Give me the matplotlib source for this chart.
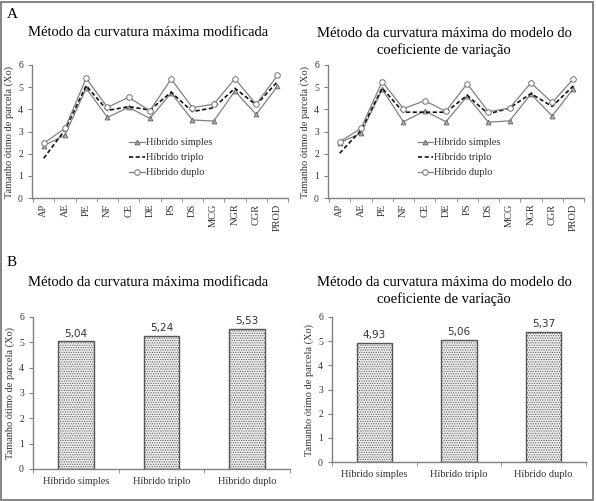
import matplotlib
matplotlib.use("Agg")
import matplotlib.pyplot as plt
from matplotlib.patches import Rectangle
import numpy as np

plt.rcParams['font.family'] = ['Liberation Serif', 'DejaVu Serif']

# Data
traits = ["AP", "AE", "PE", "NF", "CE", "DE", "PS", "DS", "MCG", "NGR", "CGR", "PROD"]
series_names = ["Híbrido simples", "Híbrido triplo", "Híbrido duplo"]

# A: método da curvatura máxima modificada
mod_simples = [2.36, 2.84, 4.95, 3.64, 4.09, 3.59, 4.74, 3.52, 3.47, 4.82, 3.77, 5.04]
mod_triplo = [1.79, 3.07, 5.07, 3.95, 4.12, 3.97, 4.77, 3.90, 4.07, 4.95, 4.20, 5.24]
mod_duplo = [2.47, 3.14, 5.40, 4.09, 4.54, 3.94, 5.37, 4.08, 4.23, 5.38, 4.23, 5.53]

# A: método da curvatura máxima do modelo do coeficiente de variação
cv_simples = [2.50, 2.92, 4.90, 3.44, 3.93, 3.44, 4.59, 3.42, 3.48, 4.69, 3.70, 4.93]
cv_triplo = [2.02, 3.05, 4.96, 3.87, 3.87, 3.87, 4.63, 3.79, 4.06, 4.71, 4.13, 5.06]
cv_duplo = [2.54, 3.14, 5.25, 4.03, 4.39, 3.91, 5.16, 3.89, 4.06, 5.19, 4.31, 5.37]

# B: médias por híbrido
bar_mod = [5.04, 5.24, 5.53]
bar_cv = [4.93, 5.06, 5.37]

title_mod = "Método da curvatura máxima modificada"
title_cv = "Método da curvatura máxima do modelo do\ncoeficiente de variação"
ylabel = "Tamanho ótimo de parcela (Xo)"

W, H = 596, 501
fig = plt.figure(figsize=(W / 100, H / 100), dpi=100)


def px_axes(x0, x1, ytop, ybot):
    return fig.add_axes([x0 / W, 1 - ybot / H, (x1 - x0) / W, (ybot - ytop) / H])


def style_axes(ax):
    for s in ["top", "right"]:
        ax.spines[s].set_visible(False)
    for s in ["left", "bottom"]:
        ax.spines[s].set_color("#808080")
        ax.spines[s].set_linewidth(1.0)
    ax.set_ylim(0, 6)
    ax.set_yticks(range(7))
    ax.tick_params(axis="both", colors="#808080", labelcolor="#333333",
                   labelsize=7, length=3, width=0.8)
    ax.set_ylabel(ylabel, fontsize=7.5, color="#333333", labelpad=3)


def line_panel(ax, simples, triplo, duplo, legend_x):
    x = np.arange(len(traits))
    ax.plot(x, simples, color="#808080", lw=0.9, marker="^", ms=3.5,
            mfc="#b0b0b0", mec="#606060", mew=0.6, label=series_names[0])
    ax.plot(x, triplo, color="#111111", lw=1.2, ls=(0, (2.5, 1.5)),
            label=series_names[1])
    ax.plot(x, duplo, color="#808080", lw=0.9, marker="o", ms=4,
            mfc="white", mec="#707070", mew=0.7, label=series_names[2])
    style_axes(ax)
    ax.set_xlim(-0.55, len(traits) - 0.5)
    ax.set_xticks(x)
    ax.set_xticklabels(traits, rotation=90, fontsize=7.5)
    ax.tick_params(axis="x", length=0, pad=4)
    ax.set_xticks(np.arange(-0.5, len(traits), 1), minor=True)
    ax.tick_params(axis="x", which="minor", length=3, color="#808080")
    ax.legend(loc="upper left", bbox_to_anchor=(legend_x, 0.45), frameon=False,
              fontsize=7.5, handlelength=1.5, handletextpad=0.1,
              labelspacing=0.55, borderpad=0, borderaxespad=0,
              labelcolor="#333333")


def bar_panel(ax, values):
    x = np.arange(len(values))
    bars = ax.bar(x, values, width=0.42, facecolor="#ececec", edgecolor="#555555",
                  hatch=".......", linewidth=1.0)
    style_axes(ax)
    ax.set_xlim(-0.5, len(values) - 0.5)
    ax.set_xticks(x)
    ax.set_xticklabels(series_names, fontsize=7.5)
    ax.tick_params(axis="x", length=0, pad=6)
    ax.set_xticks(np.arange(-0.5, len(values), 1), minor=True)
    ax.tick_params(axis="x", which="minor", length=3, color="#808080")
    labels = [f"{v:.2f}".replace(".", ",") for v in values]
    ax.bar_label(bars, labels=labels, padding=2, fontsize=7.5,
                 color="#333333", family="DejaVu Sans")


plt.rcParams['hatch.linewidth'] = 0.5

ax1 = px_axes(32, 288, 65, 198)
line_panel(ax1, mod_simples, mod_triplo, mod_duplo, 0.38)
ax2 = px_axes(328, 584, 65, 198)
line_panel(ax2, cv_simples, cv_triplo, cv_duplo, 0.35)
ax3 = px_axes(33, 290, 317, 469)
bar_panel(ax3, bar_mod)
ax4 = px_axes(332, 586, 317, 462)
bar_panel(ax4, bar_cv)

# Titles and panel letters
fig.text(148 / W, 1 - 32 / H, title_mod, ha="center", va="center", fontsize=10.5)
fig.text(444 / W, 1 - 42 / H, title_cv, ha="center", va="center", fontsize=10.5,
         linespacing=1.25)
fig.text(148 / W, 1 - 282 / H, title_mod, ha="center", va="center", fontsize=10.5)
fig.text(444 / W, 1 - 291 / H, title_cv, ha="center", va="center", fontsize=10.5,
         linespacing=1.25)
fig.text(7 / W, 1 - 14 / H, "A", ha="left", va="center", fontsize=11)
fig.text(7 / W, 1 - 263 / H, "B", ha="left", va="center", fontsize=11)

# Outer frame
fig.patches.append(Rectangle((0.002, 0.002), 0.993, 0.995, transform=fig.transFigure,
                             fill=False, edgecolor="#707070", linewidth=1.2))

fig.savefig("out.png", dpi=100)
